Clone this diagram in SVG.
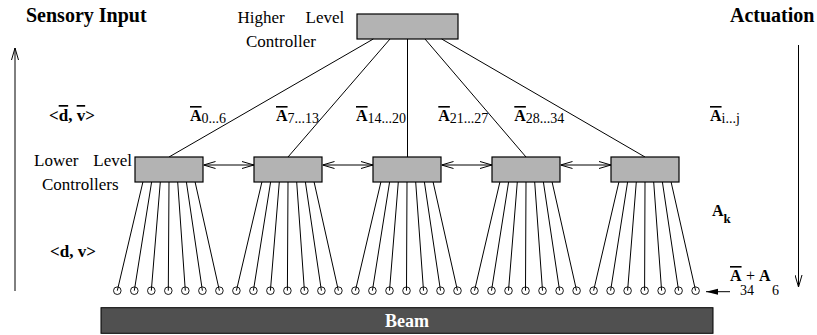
<svg xmlns="http://www.w3.org/2000/svg" width="817" height="335" viewBox="0 0 817 335">
<style>
.box{fill:#b3b3b3;stroke:#000;stroke-width:1.2}
.ln{stroke:#000;stroke-width:1;fill:none}
.sen{fill:none;stroke:#000;stroke-width:0.9}
.t{font-family:"Liberation Serif","Times New Roman",serif;fill:#000}
.lab{font-size:17px}
.b{font-weight:bold}
.h{font-size:20px;font-weight:bold}
.A{font-size:16px;font-weight:bold}
.sub{font-size:14px;font-weight:normal}
.ov{text-decoration:overline}
</style>
<defs>
<marker id="open" viewBox="0 0 12 8" refX="12" refY="4" markerWidth="12" markerHeight="8" markerUnits="userSpaceOnUse" orient="auto-start-reverse">
<path d="M0,0.5 L12,4 L0,7.5" fill="none" stroke="#000" stroke-width="1"/>
</marker>
<marker id="solid" viewBox="0 0 12 8" refX="12" refY="4" markerWidth="12" markerHeight="8" markerUnits="userSpaceOnUse" orient="auto">
<path d="M0,1 L12,4 L0,7 Z" fill="#000"/>
</marker>
<circle id="s" r="3.8" class="sen"/>
</defs>

<text class="t h" x="26" y="22">Sensory Input</text>
<text class="t h" x="730" y="22">Actuation</text>

<g id="side-arrows">
<line class="ln" x1="15" y1="291" x2="15" y2="48" marker-end="url(#open)"/>
<line class="ln" x1="798.5" y1="45" x2="798.5" y2="287" marker-end="url(#open)"/>
</g>

<g id="higher">
<rect class="box" x="357" y="14" width="101" height="25"/>
<text class="t lab" x="237.5" y="23">Higher</text>
<text class="t lab" x="305.5" y="23">Level</text>
<text class="t lab" x="246" y="47">Controller</text>
</g>

<g id="connectors">
<line class="ln" x1="373.3" y1="39" x2="169" y2="157"/>
<line class="ln" x1="390" y1="39" x2="288" y2="157"/>
<line class="ln" x1="407.5" y1="39" x2="407.5" y2="157"/>
<line class="ln" x1="425" y1="39" x2="526" y2="157"/>
<line class="ln" x1="441.7" y1="39" x2="645" y2="157"/>
<line class="ln" x1="203.5" y1="165" x2="254" y2="165" marker-start="url(#open)" marker-end="url(#open)"/>
<line class="ln" x1="322.5" y1="165" x2="373" y2="165" marker-start="url(#open)" marker-end="url(#open)"/>
<line class="ln" x1="441.5" y1="165" x2="492" y2="165" marker-start="url(#open)" marker-end="url(#open)"/>
<line class="ln" x1="560.5" y1="165" x2="611" y2="165" marker-start="url(#open)" marker-end="url(#open)"/>
<g id="fan0">
<line class="ln" x1="142.9" y1="182" x2="117.3" y2="290.7"/>
<line class="ln" x1="151.6" y1="182" x2="134.3" y2="290.7"/>
<line class="ln" x1="160.3" y1="182" x2="151.3" y2="290.7"/>
<line class="ln" x1="169" y1="182" x2="168.3" y2="290.7"/>
<line class="ln" x1="177.7" y1="182" x2="185.3" y2="290.7"/>
<line class="ln" x1="186.4" y1="182" x2="202.4" y2="290.7"/>
<line class="ln" x1="195.1" y1="182" x2="219.4" y2="290.7"/>
</g>
<g id="fan1">
<line class="ln" x1="261.9" y1="182" x2="236.4" y2="290.7"/>
<line class="ln" x1="270.6" y1="182" x2="253.4" y2="290.7"/>
<line class="ln" x1="279.3" y1="182" x2="270.4" y2="290.7"/>
<line class="ln" x1="288" y1="182" x2="287.4" y2="290.7"/>
<line class="ln" x1="296.7" y1="182" x2="304.4" y2="290.7"/>
<line class="ln" x1="305.4" y1="182" x2="321.4" y2="290.7"/>
<line class="ln" x1="314.1" y1="182" x2="338.4" y2="290.7"/>
</g>
<g id="fan2">
<line class="ln" x1="380.9" y1="182" x2="355.4" y2="290.7"/>
<line class="ln" x1="389.6" y1="182" x2="372.4" y2="290.7"/>
<line class="ln" x1="398.3" y1="182" x2="389.5" y2="290.7"/>
<line class="ln" x1="407" y1="182" x2="406.5" y2="290.7"/>
<line class="ln" x1="415.7" y1="182" x2="423.5" y2="290.7"/>
<line class="ln" x1="424.4" y1="182" x2="440.5" y2="290.7"/>
<line class="ln" x1="433.1" y1="182" x2="457.5" y2="290.7"/>
</g>
<g id="fan3">
<line class="ln" x1="499.9" y1="182" x2="474.5" y2="290.7"/>
<line class="ln" x1="508.6" y1="182" x2="491.5" y2="290.7"/>
<line class="ln" x1="517.3" y1="182" x2="508.5" y2="290.7"/>
<line class="ln" x1="526" y1="182" x2="525.5" y2="290.7"/>
<line class="ln" x1="534.7" y1="182" x2="542.5" y2="290.7"/>
<line class="ln" x1="543.4" y1="182" x2="559.6" y2="290.7"/>
<line class="ln" x1="552.1" y1="182" x2="576.6" y2="290.7"/>
</g>
<g id="fan4">
<line class="ln" x1="618.9" y1="182" x2="593.6" y2="290.7"/>
<line class="ln" x1="627.6" y1="182" x2="610.6" y2="290.7"/>
<line class="ln" x1="636.3" y1="182" x2="627.6" y2="290.7"/>
<line class="ln" x1="645" y1="182" x2="644.6" y2="290.7"/>
<line class="ln" x1="653.7" y1="182" x2="661.6" y2="290.7"/>
<line class="ln" x1="662.4" y1="182" x2="678.6" y2="290.7"/>
<line class="ln" x1="671.1" y1="182" x2="695.6" y2="290.7"/>
</g>
<line class="ln" x1="730" y1="291.7" x2="706" y2="291.7" marker-end="url(#solid)"/>
</g>

<g id="lower0"><rect class="box" x="135" y="157" width="68" height="25"/></g>
<g id="lower1"><rect class="box" x="254" y="157" width="68" height="25"/></g>
<g id="lower2"><rect class="box" x="373" y="157" width="68" height="25"/></g>
<g id="lower3"><rect class="box" x="492" y="157" width="68" height="25"/></g>
<g id="lower4"><rect class="box" x="611" y="157" width="68" height="25"/></g>

<g id="lower-label">
<text class="t lab" x="34" y="166">Lower</text>
<text class="t lab" x="93.3" y="166">Level</text>
<text class="t lab" x="42" y="190">Controllers</text>
</g>

<g id="sensors">
<use href="#s" x="117.3" y="290.7"/><use href="#s" x="134.3" y="290.7"/><use href="#s" x="151.3" y="290.7"/><use href="#s" x="168.3" y="290.7"/><use href="#s" x="185.3" y="290.7"/><use href="#s" x="202.4" y="290.7"/><use href="#s" x="219.4" y="290.7"/>
<use href="#s" x="236.4" y="290.7"/><use href="#s" x="253.4" y="290.7"/><use href="#s" x="270.4" y="290.7"/><use href="#s" x="287.4" y="290.7"/><use href="#s" x="304.4" y="290.7"/><use href="#s" x="321.4" y="290.7"/><use href="#s" x="338.4" y="290.7"/>
<use href="#s" x="355.4" y="290.7"/><use href="#s" x="372.4" y="290.7"/><use href="#s" x="389.5" y="290.7"/><use href="#s" x="406.5" y="290.7"/><use href="#s" x="423.5" y="290.7"/><use href="#s" x="440.5" y="290.7"/><use href="#s" x="457.5" y="290.7"/>
<use href="#s" x="474.5" y="290.7"/><use href="#s" x="491.5" y="290.7"/><use href="#s" x="508.5" y="290.7"/><use href="#s" x="525.5" y="290.7"/><use href="#s" x="542.5" y="290.7"/><use href="#s" x="559.6" y="290.7"/><use href="#s" x="576.6" y="290.7"/>
<use href="#s" x="593.6" y="290.7"/><use href="#s" x="610.6" y="290.7"/><use href="#s" x="627.6" y="290.7"/><use href="#s" x="644.6" y="290.7"/><use href="#s" x="661.6" y="290.7"/><use href="#s" x="678.6" y="290.7"/><use href="#s" x="695.6" y="290.7"/>
</g>

<g id="beam">
<rect x="101" y="307.7" width="612" height="25.6" fill="#505050" stroke="#000" stroke-width="1"/>
<text class="t b" x="407" y="327" font-size="18" style="fill:#fff" text-anchor="middle">Beam</text>
</g>

<g id="labels">
<text class="t b" x="49" y="121" font-size="17">&lt;<tspan class="ov">d</tspan>, <tspan class="ov">v</tspan>&gt;</text>
<text class="t b" x="50" y="257" font-size="17">&lt;d, v&gt;</text>
<text class="t A" x="190" y="121"><tspan class="ov">A</tspan><tspan class="sub" dy="2">0...6</tspan></text>
<text class="t A" x="276" y="121"><tspan class="ov">A</tspan><tspan class="sub" dy="2">7...13</tspan></text>
<text class="t A" x="356" y="121"><tspan class="ov">A</tspan><tspan class="sub" dy="2">14...20</tspan></text>
<text class="t A" x="438.3" y="121"><tspan class="ov">A</tspan><tspan class="sub" dy="2">21...27</tspan></text>
<text class="t A" x="514.3" y="121"><tspan class="ov">A</tspan><tspan class="sub" dy="2">28...34</tspan></text>
<text class="t A" x="710" y="121"><tspan class="ov">A</tspan><tspan class="sub" font-size="12" dy="2">i...j</tspan></text>
<text class="t A" x="712" y="216">A<tspan font-size="13" dy="7">k</tspan></text>
<text class="t A" x="730" y="281"><tspan class="ov">A</tspan></text>
<text class="t" x="746" y="281" font-size="16">+</text>
<text class="t A" x="759" y="281">A</text>
<text class="t sub" x="740" y="295">34</text>
<text class="t sub" x="772" y="295">6</text>
</g>
</svg>
